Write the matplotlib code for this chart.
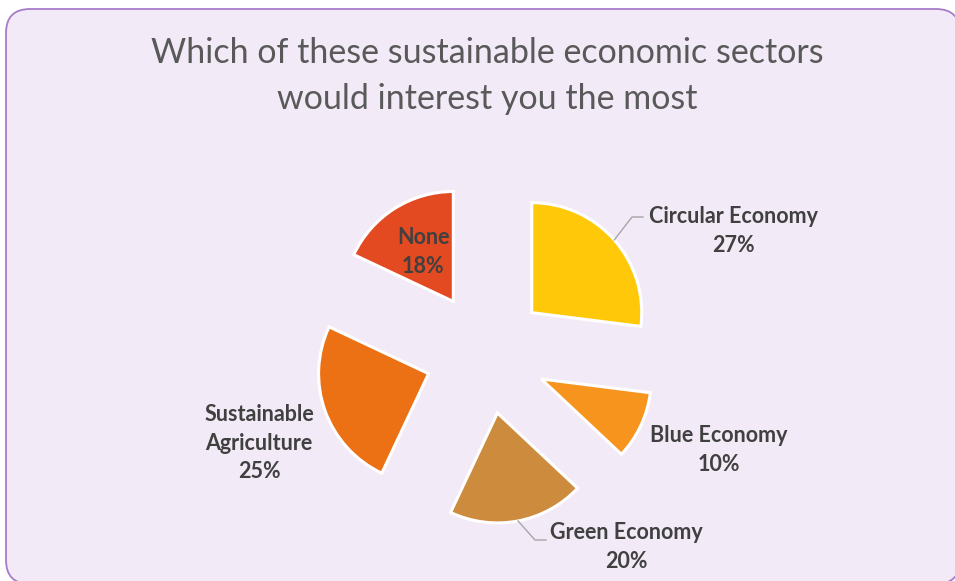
import numpy as np
import matplotlib
matplotlib.use('Agg')
import matplotlib.pyplot as plt
from matplotlib.patches import FancyBboxPatch

# data
sectors = ['Circular Economy', 'Blue Economy', 'Green Economy',
           'Sustainable\nAgriculture', 'None']
shares = [27, 10, 20, 25, 18]
colours = ['#FFC90A', '#F7941D', '#CD8B3E', '#EC7115', '#E34A22']

W, H = 955, 581
plt.rcParams['font.family'] = ['Lato', 'DejaVu Sans']

fig = plt.figure(figsize=(W / 100, H / 100), dpi=100)
fig.patch.set_facecolor('white')
ax = fig.add_axes([0, 0, 1, 1])


def py(y):
    # pixel row (from top) -> data y
    return H - y


# chart frame
ax.add_patch(FancyBboxPatch((6, py(584)), 954, 575,
                            boxstyle='round,pad=0,rounding_size=24',
                            facecolor='#F3EAF7', edgecolor='#A77CC9',
                            linewidth=1.3, zorder=0))

ax.text(487, py(53), 'Which of these sustainable economic sectors',
        ha='center', va='center', fontsize=24.5, color='#595959')
ax.text(487, py(99), 'would interest you the most',
        ha='center', va='center', fontsize=24.5, color='#595959')

cx, cy, r, d = 486, py(353), 110, 61
wedges, _ = ax.pie(shares, colors=colours, startangle=90, counterclock=False,
                   radius=r, center=(cx, cy), explode=[d] * len(shares),
                   wedgeprops=dict(edgecolor='white', linewidth=2.2),
                   frame=True)

# label positions (pixels) and where the leader line ends
label_pos = [(733, 231), (719, 450), (626, 547), (259, 443), (423, 252)]
leader_to = [(643, 217), None, (546, 540), None, None]

for w, lab, val, (lx, ly), lead in zip(wedges, sectors, shares,
                                         label_pos, leader_to):
    ax.text(lx, py(ly), f'{lab}\n{val}%', ha='center', va='center',
            fontsize=15.5, fontweight='bold', color='#404040',
            linespacing=1.42, zorder=5)
    if lead is not None:
        th = np.deg2rad((w.theta1 + w.theta2) / 2)
        x0 = w.center[0] + r * np.cos(th)
        y0 = w.center[1] + r * np.sin(th)
        ex, ey = lead
        ax.plot([x0, ex - 11, ex], [y0, py(ey), py(ey)],
                color='#A6A6A6', lw=1, zorder=4)

ax.set_xlim(0, W)
ax.set_ylim(0, H)
ax.set_aspect('equal')
ax.axis('off')

fig.savefig('out.png', dpi=100, facecolor='white')
